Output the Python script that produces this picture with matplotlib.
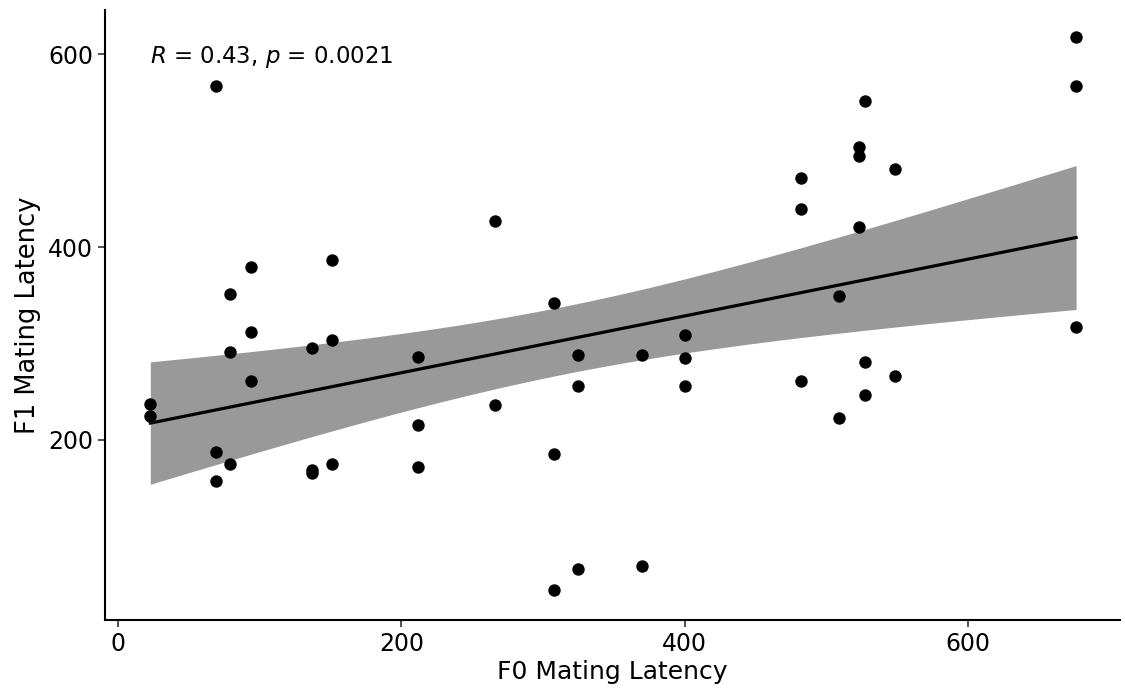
import numpy as np
import matplotlib
matplotlib.use("Agg")
import matplotlib.pyplot as plt

f0 = [23, 23, 69, 69, 69, 79, 79, 79, 94, 94, 94, 137, 137, 137, 151, 151, 151,
      212, 212, 212, 266, 266, 308, 308, 308, 325, 325, 325, 370, 370,
      400, 400, 400, 482, 482, 482, 509, 509, 523, 523, 523, 527, 527, 527,
      548, 548, 676, 676, 676]
f1 = [237, 225, 567, 187, 157, 351, 291, 175, 379, 312, 261, 295, 169, 166, 387, 304, 175,
      286, 215, 172, 427, 236, 342, 185, 44, 288, 256, 66, 288, 69,
      309, 285, 256, 472, 440, 261, 349, 223, 504, 495, 421, 552, 281, 246,
      481, 266, 618, 567, 317]
annot = "$R$ = 0.43, $p$ = 0.0021"

x = np.array(f0, float)
y = np.array(f1, float)
n = len(x)
b1, b0 = np.polyfit(x, y, 1)
xs = np.linspace(x.min(), x.max(), 200)
ys = b0 + b1 * xs
resid = y - (b0 + b1 * x)
s = np.sqrt(np.sum(resid**2) / (n - 2))
se = s * np.sqrt(1 / n + (xs - x.mean())**2 / np.sum((x - x.mean())**2))
t = 2.012

fig = plt.figure(figsize=(11.25, 6.9), dpi=100)
ax = fig.add_axes([0.0933, 0.1014, 0.9023, 0.8841])
ax.fill_between(xs, ys - t * se, ys + t * se, color="#999999", lw=0, zorder=1)
ax.plot(xs, ys, color="black", lw=2.3, zorder=2)
ax.scatter(x, y, s=80, color="black", zorder=3, linewidths=0)
ax.set_xlim(-9, 707)
ax.set_ylim(13, 646)
ax.set_xticks([0, 200, 400, 600])
ax.set_yticks([200, 400, 600])
for sp in ["top", "right"]:
    ax.spines[sp].set_visible(False)
for sp in ["left", "bottom"]:
    ax.spines[sp].set_linewidth(1.5)
ax.tick_params(labelsize=17, width=1.2, length=5, color="#333333")
ax.set_xlabel("F0 Mating Latency", fontsize=18, labelpad=3)
ax.set_ylabel("F1 Mating Latency", fontsize=18.5, labelpad=5)
ax.text(23, 597, annot, fontsize=16.5, ha="left", va="center")
fig.savefig("out.png", dpi=100)
